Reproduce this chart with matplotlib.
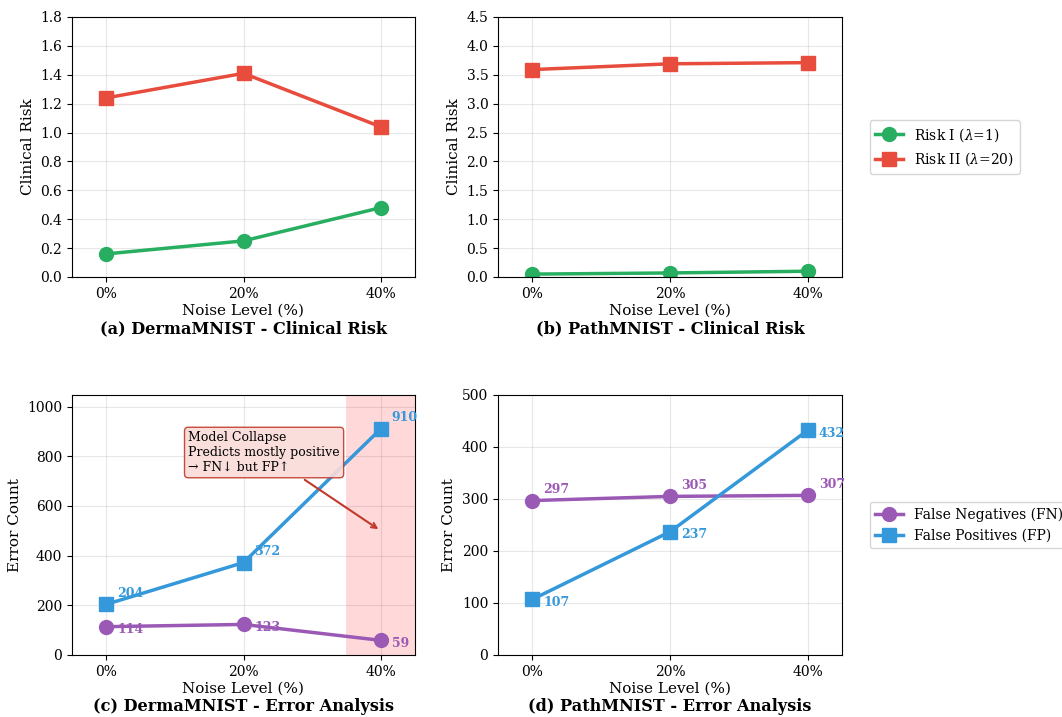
import matplotlib
matplotlib.use("Agg")
import matplotlib.pyplot as plt

plt.rcParams['font.family'] = ['DejaVu Serif']
plt.rcParams['mathtext.fontset'] = 'dejavuserif'

noise_labels = ['0%', '20%', '40%']
x = [0, 1, 2]

derma_risk1 = [0.16, 0.25, 0.48]
derma_risk2 = [1.24, 1.41, 1.04]
path_risk1 = [0.05, 0.07, 0.10]
path_risk2 = [3.59, 3.69, 3.71]

derma_fn = [114, 123, 59]
derma_fp = [204, 372, 910]
path_fn = [297, 305, 307]
path_fp = [107, 237, 432]

GREEN = '#27ae60'
RED = '#e74c3c'
PURPLE = '#9b59b6'
BLUE = '#3498db'

fig = plt.figure(figsize=(10.62, 7.17), dpi=100)
W, H = 1062, 717

def mkax(l, t, r, b):
    return fig.add_axes([l / W, 1 - b / H, (r - l) / W, (b - t) / H])

ax_a = mkax(72, 17, 415, 277)
ax_b = mkax(498, 17, 842, 277)
ax_c = mkax(72, 395, 415, 655)
ax_d = mkax(498, 395, 842, 655)

def style(ax, ylabel, title):
    ax.set_xticks(x)
    ax.set_xticklabels(noise_labels, fontsize=10)
    ax.tick_params(axis='y', labelsize=10)
    ax.set_xlim(-0.25, 2.25)
    ax.set_xlabel('Noise Level (%)', fontsize=11, labelpad=2)
    ax.set_ylabel(ylabel, fontsize=11)
    ax.grid(True, alpha=0.3)
    ax.set_axisbelow(True)
    ax.text(0.5, -0.165, title, transform=ax.transAxes, ha='center', va='top',
            fontsize=11.6, fontweight='bold')

# (a)
ax_a.plot(x, derma_risk1, '-o', color=GREEN, lw=2.5, ms=10, label=r'Risk I ($\lambda$=1)')
ax_a.plot(x, derma_risk2, '-s', color=RED, lw=2.5, ms=10, label=r'Risk II ($\lambda$=20)')
ax_a.set_ylim(0, 1.8)
style(ax_a, 'Clinical Risk', '(a) DermaMNIST - Clinical Risk')

# (b)
ax_b.plot(x, path_risk1, '-o', color=GREEN, lw=2.5, ms=10, label=r'Risk I ($\lambda$=1)')
ax_b.plot(x, path_risk2, '-s', color=RED, lw=2.5, ms=10, label=r'Risk II ($\lambda$=20)')
ax_b.set_ylim(0, 4.5)
style(ax_b, 'Clinical Risk', '(b) PathMNIST - Clinical Risk')
ax_b.legend(loc='center left', bbox_to_anchor=(1.06, 0.5), fontsize=10)

# (c)
ax_c.axvspan(1.75, 2.25, color='red', alpha=0.15, lw=0)
ax_c.plot(x, derma_fn, '-o', color=PURPLE, lw=2.5, ms=10, label='False Negatives (FN)')
ax_c.plot(x, derma_fp, '-s', color=BLUE, lw=2.5, ms=10, label='False Positives (FP)')
for xi, v in zip(x, derma_fp):
    ax_c.annotate(str(v), (xi, v), xytext=(8, 8), textcoords='offset points',
                  ha='left', va='center', fontsize=9, fontweight='bold', color=BLUE)
for xi, v in zip(x, derma_fn):
    ax_c.annotate(str(v), (xi, v), xytext=(8, -2), textcoords='offset points',
                  ha='left', va='center', fontsize=9, fontweight='bold', color=PURPLE)
ax_c.set_ylim(0, max(derma_fp) * 1.15)
ax_c.annotate('Model Collapse\nPredicts mostly positive\n→ FN↓ but FP↑',
              xy=(2, 500), xytext=(1.15, 815), ha='center', va='center',
              multialignment='left', fontsize=9,
              bbox=dict(boxstyle='round,pad=0.3', facecolor='#fadbd8', edgecolor='#c0392b', alpha=0.9),
              arrowprops=dict(arrowstyle='->', color='#c0392b', lw=1.5), zorder=5)
style(ax_c, 'Error Count', '(c) DermaMNIST - Error Analysis')

# (d)
ax_d.plot(x, path_fn, '-o', color=PURPLE, lw=2.5, ms=10, label='False Negatives (FN)')
ax_d.plot(x, path_fp, '-s', color=BLUE, lw=2.5, ms=10, label='False Positives (FP)')
for xi, v in zip(x, path_fn):
    ax_d.annotate(str(v), (xi, v), xytext=(8, 8), textcoords='offset points',
                  ha='left', va='center', fontsize=9, fontweight='bold', color=PURPLE)
for xi, v in zip(x, path_fp):
    ax_d.annotate(str(v), (xi, v), xytext=(8, -2), textcoords='offset points',
                  ha='left', va='center', fontsize=9, fontweight='bold', color=BLUE)
ax_d.set_ylim(0, 500)
style(ax_d, 'Error Count', '(d) PathMNIST - Error Analysis')
ax_d.legend(loc='center left', bbox_to_anchor=(1.06, 0.5), fontsize=10)

fig.savefig('out.png', dpi=100)
